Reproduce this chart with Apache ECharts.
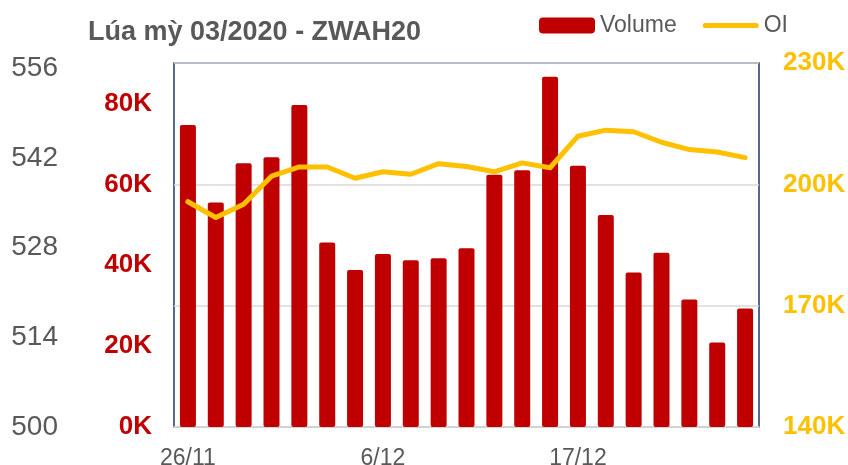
<!DOCTYPE html>
<html>
<head>
<meta charset="utf-8">
<script src="https://cdn.jsdelivr.net/npm/echarts@6/dist/echarts.min.js"></script>
<style>
  html, body { margin: 0; padding: 0; background: #fff; }
  #main { width: 848px; height: 465px; }
</style>
</head>
<body>
<div id="main"></div>
<script>
// ngày giao dịch
var dates = ['26/11', '27/11', '29/11', '2/12', '3/12', '4/12', '5/12', '6/12', '9/12', '10/12', '11/12',
    '12/12', '13/12', '16/12', '17/12', '18/12', '19/12', '20/12', '23/12', '24/12', '26/12'];
// khối lượng
var volume = [74700, 55500, 65200, 66700, 79600, 45600, 38800, 42800, 41200, 41700, 44200,
    62400, 63500, 86600, 64600, 52400, 38200, 43100, 31500, 20900, 29300];
// open interest
var oi = [195700, 191800, 195100, 202000, 204300, 204300, 201500, 203100, 202500, 205100, 204400,
    203100, 205300, 204100, 211900, 213400, 213000, 210400, 208600, 208000, 206600];

var font = "'Liberation Sans', Arial, sans-serif";

var myChart = echarts.init(document.getElementById('main'));

var option = {
    animation: false,
    backgroundColor: '#fff',
    title: {
        text: 'Lúa mỳ 03/2020 - ZWAH20',
        left: 88,
        top: 19,
        padding: 0,
        textStyle: {
            color: '#595959',
            fontFamily: font,
            fontWeight: 'bold',
            fontSize: 27
        }
    },
    legend: {
        left: 539,
        top: 14,
        padding: 0,
        itemWidth: 56,
        itemHeight: 16,
        itemGap: 26,
        textStyle: {
            color: '#595959',
            fontFamily: font,
            fontSize: 23
        },
        data: [
            {name: 'Volume', icon: 'roundRect'},
            // icon đường kẻ dày, không có chấm tròn
            {name: 'OI', icon: 'path://M2.5,0H53.5A2.5,2.5,0,0,1,53.5,5H2.5A2.5,2.5,0,0,1,2.5,0Z'}
        ]
    },
    grid: {
        left: 174,
        right: 89,
        top: 63,
        bottom: 38,
        outerBoundsMode: 'none',
        show: true,
        borderColor: '#203864',
        borderWidth: 1.5
    },
    xAxis: {
        type: 'category',
        data: dates,
        axisTick: {show: false},
        axisLine: {lineStyle: {color: '#D9D9D9', width: 1.5}},
        axisLabel: {
            interval: 6,
            margin: 20,
            color: '#595959',
            fontFamily: font,
            fontSize: 23
        }
    },
    yAxis: [
        {
            // khối lượng
            type: 'value',
            position: 'left',
            min: 0,
            max: 90000,
            interval: 20000,
            splitLine: {show: false},
            axisLine: {show: false},
            axisTick: {show: false},
            axisLabel: {
                showMaxLabel: false,
                margin: 22,
                color: '#C00000',
                fontFamily: font,
                fontWeight: 'bold',
                fontSize: 26,
                formatter: function (v) { return (v / 1000) + 'K'; }
            }
        },
        {
            // OI
            type: 'value',
            position: 'right',
            min: 140000,
            max: 230000,
            interval: 30000,
            splitLine: {lineStyle: {color: '#D9D9D9', width: 1.5}},
            axisLine: {show: false},
            axisTick: {show: false},
            axisLabel: {
                margin: 24,
                color: '#FFC000',
                fontFamily: font,
                fontWeight: 'bold',
                fontSize: 26,
                formatter: function (v) { return (v / 1000) + 'K'; }
            }
        },
        {
            // giá (trục phụ bên ngoài)
            type: 'value',
            position: 'left',
            offset: 108,
            min: 500,
            max: 556.8,
            interval: 14,
            splitLine: {show: false},
            axisLine: {show: false},
            axisTick: {show: false},
            axisLabel: {
                showMaxLabel: false,
                margin: 8,
                color: '#595959',
                fontFamily: font,
                fontSize: 28
            }
        }
    ],
    series: [
        {
            name: 'Volume',
            type: 'bar',
            yAxisIndex: 0,
            barWidth: 16,
            itemStyle: {color: '#C00000', borderRadius: 2},
            data: volume
        },
        {
            name: 'OI',
            type: 'line',
            yAxisIndex: 1,
            symbol: 'none',
            color: '#FFC000',
            lineStyle: {color: '#FFC000', width: 5, join: 'round', cap: 'round'},
            data: oi
        }
    ]
};
myChart.setOption(option);
</script>
</body>
</html>
